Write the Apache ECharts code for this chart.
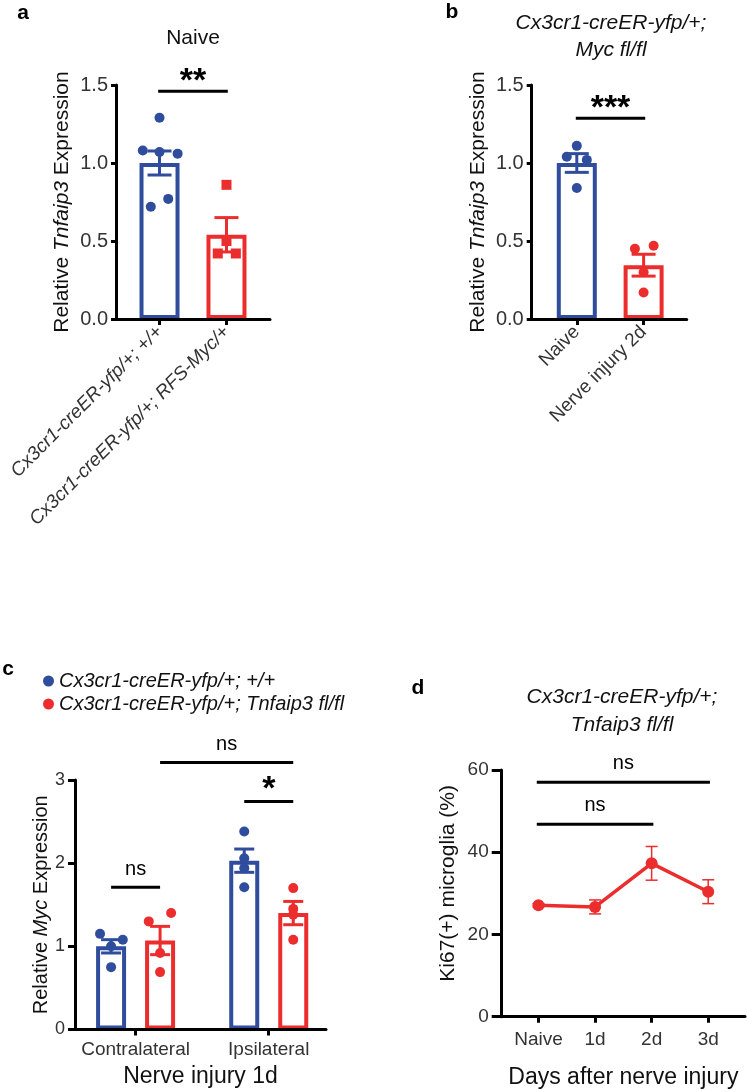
<!DOCTYPE html>
<html><head><meta charset="utf-8">
<script src="https://cdn.jsdelivr.net/npm/echarts@6/dist/echarts.min.js"></script>
<style>html,body{margin:0;padding:0;background:#fff}#c{width:748px;height:1092px}</style>
</head><body><div id="c"></div>
<script>
// ---------- DATA ----------
// Panel a
const aCategories = ['Cx3cr1-creER-yfp/+; +/+', 'Cx3cr1-creER-yfp/+; RFS-Myc/+'];
const aMeans = [1.00, 0.54];
const aSem = [0.077, 0.11];
const aCtrlPoints = [1.29, 1.08, 1.07, 1.06, 0.72, 0.77];
const aCtrlJitter = [0, -0.25, 0, 0.27, -0.13, 0.13];
const aMycPoints = [0.86, 0.42, 0.42, 0.50];
const aMycJitter = [0, -0.13, 0.14, 0];
const aBracketFrom = [-0.02], aBracketTo = [1.02], aBracketY = [1.46], aBracketLabelY = [1.56], aBracketLabels = ['**'];
// Panel b
const bCategories = ['Naive', 'Nerve injury 2d'];
const bMeans = [1.00, 0.345];
const bSem = [0.06, 0.07];
const bNaivePoints = [1.11, 1.04, 1.02, 0.84];
const bNaiveJitter = [0, -0.15, 0.15, 0];
const bInjuryPoints = [0.45, 0.47, 0.17, 0.30];
const bInjuryJitter = [-0.13, 0.15, 0, 0];
const bBracketFrom = [-0.015], bBracketTo = [1.024], bBracketY = [1.287], bBracketLabelY = [1.385], bBracketLabels = ['***'];
// Panel c
const cCategories = ['Contralateral', 'Ipsilateral'];
const cGroupNames = ['Cx3cr1-creER-yfp/+; +/+', 'Cx3cr1-creER-yfp/+; Tnfaip3 fl/fl'];
const cCtrlMeans = [1.00, 2.03];
const cCtrlSem = [0.08, 0.14];
const cKoMeans = [1.07, 1.40];
const cKoSem = [0.17, 0.14];
const cCtrlContraPoints = [1.15, 1.08, 1.00, 0.75];
const cCtrlContraJitter = [-0.083, 0.088, 0, 0];
const cKoContraPoints = [1.30, 1.40, 0.92, 0.69];
const cKoContraJitter = [-0.085, 0.083, 0, 0];
const cCtrlIpsiPoints = [2.38, 2.06, 1.94, 1.71];
const cKoIpsiPoints = [1.70, 1.45, 1.38, 1.08];
const cBarOffset = 0.184;
const cBracketFrom = [-0.184, 0.184, 0.816], cBracketTo = [0.184, 1.184, 1.184];
const cBracketY = [1.71, 3.21, 2.74], cBracketLabelY = [1.93, 3.43, 2.954], cBracketLabels = ['ns', 'ns', '*'];
// Panel d
const dCategories = ['Naive', '1d', '2d', '3d'];
const dMeans = [27.1, 26.7, 37.3, 30.4];
const dSem = [0.4, 1.7, 4.1, 2.9];
const dBracketFrom = [-0.03, -0.03], dBracketTo = [3.03, 2.03], dBracketY = [57.0, 46.8], dBracketLabelY = [61.6, 51.4], dBracketLabels = ['ns', 'ns'];

// ---------- STYLE ----------
const FONT = '"Liberation Sans", Arial, Helvetica, sans-serif';
const BLUE = '#2f4d9c', RED = '#ec2d2d', INK = '#111', TXT = '#333';

function errorBarRender(capHalf, lw, color) {
  return function (params, api) {
    const x = api.value(0), m = api.value(1), s = api.value(2);
    const t = api.coord([x, m + s]), b = api.coord([x, m - s]);
    const st = { stroke: color, lineWidth: lw };
    return { type: 'group', children: [
      { type: 'line', shape: { x1: t[0], y1: t[1], x2: b[0], y2: b[1] }, style: st },
      { type: 'line', shape: { x1: t[0] - capHalf, y1: t[1], x2: t[0] + capHalf, y2: t[1] }, style: st },
      { type: 'line', shape: { x1: b[0] - capHalf, y1: b[1], x2: b[0] + capHalf, y2: b[1] }, style: st }
    ]};
  };
}
function bracketRender(labels) {
  return function (params, api) {
    const x1 = api.value(0), x2 = api.value(1), y = api.value(2), ly = api.value(3);
    const p1 = api.coord([x1, y]), p2 = api.coord([x2, y]);
    const pl = api.coord([(x1 + x2) / 2, ly]);
    const lab = labels[params.dataIndex];
    const star = lab.indexOf('*') >= 0;
    return { type: 'group', children: [
      { type: 'line', shape: { x1: p1[0], y1: p1[1], x2: p2[0], y2: p2[1] }, style: { stroke: '#000', lineWidth: 3 } },
      { type: 'text', style: { text: lab, x: pl[0], y: pl[1] + (star ? 6 : 0), align: 'center', verticalAlign: 'middle',
          font: (star ? 'bold 34px ' : '20px ') + FONT, fill: '#000' } }
    ]};
  };
}
function rows(a, b, c, d) { return a.map((v, i) => [v, b[i], c[i], d[i]]); }
function pts(center, vals, jit) { return vals.map((v, i) => [center + (jit ? jit[i] : 0), v]); }

function valueXAxis(gi, min, max, ticks, labels, labelOpt) {
  return {
    type: 'value', gridIndex: gi, min: min, max: max, z: 10,
    axisLine: { show: true, onZero: false, lineStyle: { color: '#000', width: 3 } },
    axisTick: { show: true, customValues: ticks, length: 6, lineStyle: { color: '#000', width: 3 } },
    splitLine: { show: false },
    axisLabel: Object.assign({ customValues: ticks, formatter: v => labels[Math.round(v)] || '',
      color: TXT, fontFamily: FONT, fontSize: 19, margin: 10 }, labelOpt || {})
  };
}
function valueYAxis(gi, min, max, interval, fmt, fs, tickLen, margin) {
  return {
    type: 'value', gridIndex: gi, min: min, max: max, interval: interval, z: 10,
    axisLine: { show: true, onZero: false, lineStyle: { color: '#000', width: 3 } },
    axisTick: { show: true, length: tickLen, lineStyle: { color: '#000', width: 3 } },
    splitLine: { show: false },
    axisLabel: { formatter: fmt, color: TXT, fontFamily: FONT, fontSize: fs, margin: margin }
  };
}

const chart = echarts.init(document.getElementById('c'));
const barStyle = (c) => ({ color: '#fff', borderColor: c, borderWidth: 4 });
const dot = (c) => ({ color: c, opacity: 1 });

const option = {
  animation: false,
  backgroundColor: '#fff',
  textStyle: { fontFamily: FONT },
  grid: [
    { left: 116, top: 85, width: 154, height: 234 },
    { left: 531.7, top: 85, width: 155, height: 234 },
    { left: 75, top: 780, width: 251, height: 249.5 },
    { left: 501.7, top: 770, width: 243.3, height: 246.7 }
  ],
  xAxis: [
    valueXAxis(0, -0.65, 1.65, [0, 1], aCategories, { rotate: 45, fontStyle: 'italic' }),
    valueXAxis(1, -0.675, 1.645, [0, 1], bCategories, { rotate: 45 }),
    Object.assign(valueXAxis(2, -0.455, 1.43, [0, 1], cCategories, { margin: 11 }),
      { name: 'Nerve injury 1d', nameLocation: 'middle', nameGap: 36, nameTextStyle: { fontSize: 23, color: INK, fontFamily: FONT } }),
    Object.assign(valueXAxis(3, -0.65, 3.65, [0, 1, 2, 3], dCategories, { margin: 14 }),
      { name: 'Days after nerve injury', nameLocation: 'middle', nameGap: 49, nameTextStyle: { fontSize: 23, color: INK, fontFamily: FONT } })
  ],
  yAxis: [
    Object.assign(valueYAxis(0, 0, 1.5, 0.5, v => v.toFixed(1), 20, 5, 8), {
      name: '{r|Relative }{i|Tnfaip3}{r| Expression}', nameLocation: 'middle', nameGap: 43,
      nameTextStyle: { rich: { r: { fontSize: 21, color: INK, fontFamily: FONT }, i: { fontSize: 21, color: INK, fontFamily: FONT, fontStyle: 'italic' } } } }),
    Object.assign(valueYAxis(1, 0, 1.5, 0.5, v => v.toFixed(1), 20, 5, 8), {
      name: '{r|Relative }{i|Tnfaip3}{r| Expression}', nameLocation: 'middle', nameGap: 43,
      nameTextStyle: { rich: { r: { fontSize: 21, color: INK, fontFamily: FONT }, i: { fontSize: 21, color: INK, fontFamily: FONT, fontStyle: 'italic' } } } }),
    Object.assign(valueYAxis(2, 0, 3, 1, v => String(v), 18, 7, 10), {
      name: '{r|Relative }{i|Myc}{r| Expression}', nameLocation: 'middle', nameGap: 23,
      nameTextStyle: { rich: { r: { fontSize: 20, color: INK, fontFamily: FONT }, i: { fontSize: 20, color: INK, fontFamily: FONT, fontStyle: 'italic' } } } }),
    Object.assign(valueYAxis(3, 0, 60, 20, v => String(v), 19, 10, 13), {
      name: 'Ki67(+) microglia (%)', nameLocation: 'middle', nameGap: 43,
      nameTextStyle: { fontSize: 21, color: INK, fontFamily: FONT, padding: [0, 0, 0, 20] } })
  ],
  legend: {
    data: cGroupNames, left: 38, top: 666, orient: 'vertical', icon: 'circle',
    itemWidth: 11, itemHeight: 11, itemGap: 3, selectedMode: false,
    textStyle: { fontSize: 20, fontStyle: 'italic', color: INK, fontFamily: FONT }
  },
  series: [
    // ---- a ----
    { type: 'bar', xAxisIndex: 0, yAxisIndex: 0, barWidth: 40, z: 2,
      data: [{ value: [0, aMeans[0]], itemStyle: barStyle(BLUE) }, { value: [1, aMeans[1]], itemStyle: barStyle(RED) }] },
    { type: 'custom', xAxisIndex: 0, yAxisIndex: 0, z: 3, renderItem: errorBarRender(12, 3, BLUE), data: [[0, aMeans[0], aSem[0]]] },
    { type: 'custom', xAxisIndex: 0, yAxisIndex: 0, z: 3, renderItem: errorBarRender(12, 3, RED), data: [[1, aMeans[1], aSem[1]]] },
    { type: 'scatter', xAxisIndex: 0, yAxisIndex: 0, z: 4, symbol: 'circle', symbolSize: 10, itemStyle: dot(BLUE), data: pts(0, aCtrlPoints, aCtrlJitter) },
    { type: 'scatter', xAxisIndex: 0, yAxisIndex: 0, z: 4, symbol: 'rect', symbolSize: 10, itemStyle: dot(RED), data: pts(1, aMycPoints, aMycJitter) },
    { type: 'custom', xAxisIndex: 0, yAxisIndex: 0, z: 5, renderItem: bracketRender(aBracketLabels), data: rows(aBracketFrom, aBracketTo, aBracketY, aBracketLabelY) },
    // ---- b ----
    { type: 'bar', xAxisIndex: 1, yAxisIndex: 1, barWidth: 40, z: 2,
      data: [{ value: [0, bMeans[0]], itemStyle: barStyle(BLUE) }, { value: [1, bMeans[1]], itemStyle: barStyle(RED) }] },
    { type: 'custom', xAxisIndex: 1, yAxisIndex: 1, z: 3, renderItem: errorBarRender(12, 3, BLUE), data: [[0, bMeans[0], bSem[0]]] },
    { type: 'custom', xAxisIndex: 1, yAxisIndex: 1, z: 3, renderItem: errorBarRender(12, 3, RED), data: [[1, bMeans[1], bSem[1]]] },
    { type: 'scatter', xAxisIndex: 1, yAxisIndex: 1, z: 4, symbolSize: 10, itemStyle: dot(BLUE), data: pts(0, bNaivePoints, bNaiveJitter) },
    { type: 'scatter', xAxisIndex: 1, yAxisIndex: 1, z: 4, symbolSize: 10, itemStyle: dot(RED), data: pts(1, bInjuryPoints, bInjuryJitter) },
    { type: 'custom', xAxisIndex: 1, yAxisIndex: 1, z: 5, renderItem: bracketRender(bBracketLabels), data: rows(bBracketFrom, bBracketTo, bBracketY, bBracketLabelY) },
    // ---- c ----
    { type: 'bar', xAxisIndex: 2, yAxisIndex: 2, barWidth: 30, z: 2,
      data: [
        { value: [0 - cBarOffset, cCtrlMeans[0]], itemStyle: barStyle(BLUE) },
        { value: [0 + cBarOffset, cKoMeans[0]], itemStyle: barStyle(RED) },
        { value: [1 - cBarOffset, cCtrlMeans[1]], itemStyle: barStyle(BLUE) },
        { value: [1 + cBarOffset, cKoMeans[1]], itemStyle: barStyle(RED) }
      ] },
    { type: 'custom', xAxisIndex: 2, yAxisIndex: 2, z: 3, renderItem: errorBarRender(10, 3, BLUE),
      data: [[0 - cBarOffset, cCtrlMeans[0], cCtrlSem[0]], [1 - cBarOffset, cCtrlMeans[1], cCtrlSem[1]]] },
    { type: 'custom', xAxisIndex: 2, yAxisIndex: 2, z: 3, renderItem: errorBarRender(10, 3, RED),
      data: [[0 + cBarOffset, cKoMeans[0], cKoSem[0]], [1 + cBarOffset, cKoMeans[1], cKoSem[1]]] },
    { name: cGroupNames[0], type: 'scatter', xAxisIndex: 2, yAxisIndex: 2, z: 4, symbolSize: 10, itemStyle: dot(BLUE),
      data: pts(0 - cBarOffset, cCtrlContraPoints, cCtrlContraJitter).concat(pts(1 - cBarOffset, cCtrlIpsiPoints)) },
    { name: cGroupNames[1], type: 'scatter', xAxisIndex: 2, yAxisIndex: 2, z: 4, symbolSize: 10, itemStyle: dot(RED),
      data: pts(0 + cBarOffset, cKoContraPoints, cKoContraJitter).concat(pts(1 + cBarOffset, cKoIpsiPoints)) },
    { type: 'custom', xAxisIndex: 2, yAxisIndex: 2, z: 5, renderItem: bracketRender(cBracketLabels), data: rows(cBracketFrom, cBracketTo, cBracketY, cBracketLabelY) },
    // ---- d ----
    { type: 'custom', xAxisIndex: 3, yAxisIndex: 3, z: 3, renderItem: errorBarRender(6, 1.5, RED),
      data: dMeans.map((m, i) => [i, m, dSem[i]]) },
    { type: 'line', xAxisIndex: 3, yAxisIndex: 3, z: 4, symbol: 'circle', symbolSize: 12,
      lineStyle: { color: RED, width: 3.5 }, itemStyle: dot(RED),
      data: dMeans.map((m, i) => [i, m]) },
    { type: 'custom', xAxisIndex: 3, yAxisIndex: 3, z: 5, renderItem: bracketRender(dBracketLabels), data: rows(dBracketFrom, dBracketTo, dBracketY, dBracketLabelY) }
  ],
  graphic: [
    { type: 'text', x: 23, y: 13, style: { text: 'a', font: 'bold 21px ' + FONT, fill: '#000', align: 'center', verticalAlign: 'middle' } },
    { type: 'text', x: 193, y: 38, style: { text: 'Naive', font: '21px ' + FONT, fill: INK, align: 'center', verticalAlign: 'middle' } },
    { type: 'text', x: 452, y: 12, style: { text: 'b', font: 'bold 21px ' + FONT, fill: '#000', align: 'center', verticalAlign: 'middle' } },
    { type: 'text', x: 611, y: 36.5, style: { text: 'Cx3cr1-creER-yfp/+;\nMyc fl/fl', font: 'italic 21px ' + FONT, lineHeight: 27, fill: INK, align: 'center', verticalAlign: 'middle' } },
    { type: 'text', x: 8, y: 669, style: { text: 'c', font: 'bold 21px ' + FONT, fill: '#000', align: 'center', verticalAlign: 'middle' } },
    { type: 'text', x: 418, y: 688, style: { text: 'd', font: 'bold 21px ' + FONT, fill: '#000', align: 'center', verticalAlign: 'middle' } },
    { type: 'text', x: 622, y: 711, style: { text: 'Cx3cr1-creER-yfp/+;\nTnfaip3 fl/fl', font: 'italic 21px ' + FONT, lineHeight: 28, fill: INK, align: 'center', verticalAlign: 'middle' } }
  ]
};
chart.setOption(option);
</script>
</body></html>
